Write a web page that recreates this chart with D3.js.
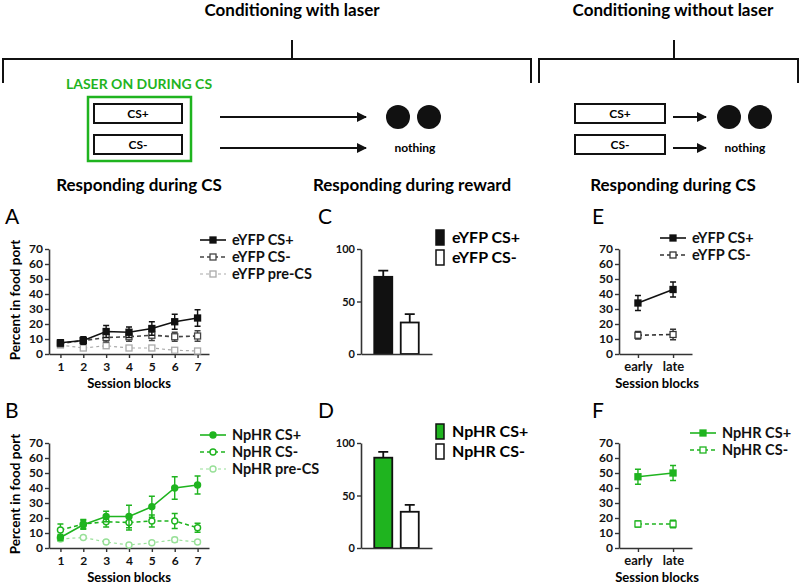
<!DOCTYPE html>
<html><head><meta charset="utf-8">
<script src="https://cdn.jsdelivr.net/npm/d3@7"></script>
<style>
body{margin:0;background:#fff;}
svg{display:block;}
text{font-family:Lato,"Open Sans",sans-serif;}
</style></head>
<body>
<svg id="chart" width="800" height="585"></svg>
<script>
// ---------------- DATA ----------------
const sessionBlocks = [1, 2, 3, 4, 5, 6, 7];
const yTicks70 = [0, 10, 20, 30, 40, 50, 60, 70];
const yTicks100 = [0, 50, 100];

const eyfpCSplus = [7.5, 9, 15, 14.5, 17, 21.5, 24];
const eyfpCSplusErr = [2, 2.5, 4, 3.5, 4.5, 5, 5.5];
const eyfpCSminus = [7, 9, 11, 11.5, 12.5, 11.5, 12];
const eyfpCSminusErr = [2, 2, 3, 3, 3.5, 3, 3.5];
const eyfpPreCS = [6, 4, 5.5, 4, 4, 2.5, 2];
const eyfpPreCSErr = [1, 1, 1, 1, 1, 1, 1];

const nphrCSplus = [7, 15.5, 21, 21, 27.5, 40, 42];
const nphrCSplusErr = [2, 3, 3.5, 7.5, 7, 7.5, 6];
const nphrCSminus = [12, 16, 17.5, 17, 18, 18, 13.5];
const nphrCSminusErr = [4, 3, 3.5, 5, 4, 5, 3];
const nphrPreCS = [6, 7, 4, 2, 3.5, 5.5, 4];
const nphrPreCSErr = [1.5, 1, 1, 1, 1, 1.5, 1];

const rewardCategoriesC = ["eYFP CS+", "eYFP CS-"];
const rewardValuesC = [73.5, 30];
const rewardErrC = [6, 8];
const rewardCategoriesD = ["NpHR CS+", "NpHR CS-"];
const rewardValuesD = [86, 34.5];
const rewardErrD = [5.5, 6.5];

const phases = ["early", "late"];
const eyfpNoLaserCSplus = [34, 43];
const eyfpNoLaserCSplusErr = [5, 5];
const eyfpNoLaserCSminus = [12.5, 13];
const eyfpNoLaserCSminusErr = [2.5, 3.5];
const nphrNoLaserCSplus = [47.5, 50];
const nphrNoLaserCSplusErr = [5, 5];
const nphrNoLaserCSminus = [16, 16];
const nphrNoLaserCSminusErr = [2, 2.5];

// ---------------- STYLE ----------------
const GREEN = "#1fb41f";
const LIGHTGREEN = "#98e098";
const GREY = "#aaaaaa";
const DARK = "#333333";

const svg = d3.select("#chart");

// ---------------- SCHEMATIC ----------------
const schem = svg.append("g");
function bracket(x0, x1, xm) {
  schem.append("path")
    .attr("d", `M${x0},83 V59 H${x1} V83 M${xm},59 V40`)
    .attr("fill", "none").attr("stroke", "#111").attr("stroke-width", 2);
}
bracket(3, 531, 292);
bracket(539, 798, 674);
schem.append("text").attr("x", 292).attr("y", 16).attr("text-anchor", "middle")
  .attr("font-size", 17).attr("font-weight", "bold").text("Conditioning with laser");
schem.append("text").attr("x", 673).attr("y", 16).attr("text-anchor", "middle")
  .attr("font-size", 17).attr("font-weight", "bold").text("Conditioning without laser");

schem.append("text").attr("x", 139).attr("y", 89).attr("text-anchor", "middle")
  .attr("font-family", "Liberation Sans, Arial, sans-serif")
  .attr("font-size", 14).attr("font-weight", "bold").attr("fill", GREEN).text("LASER ON DURING CS");
schem.append("rect").attr("x", 88).attr("y", 97).attr("width", 103).attr("height", 64)
  .attr("fill", "none").attr("stroke", GREEN).attr("stroke-width", 2.5);

svg.append("defs").append("marker").attr("id", "arr")
  .attr("viewBox", "0 0 10 10").attr("refX", 9).attr("refY", 5)
  .attr("markerWidth", 10).attr("markerHeight", 10).attr("markerUnits", "userSpaceOnUse")
  .attr("orient", "auto")
  .append("path").attr("d", "M0,0 L10,5 L0,10 z").attr("fill", "#111");

function csBlock(bx, bw, ax0, ax1, c1, c2, nx) {
  [["CS+", 104], ["CS-", 135]].forEach(([t, y]) => {
    schem.append("rect").attr("x", bx).attr("y", y).attr("width", bw).attr("height", 19)
      .attr("fill", "#fff").attr("stroke", "#111").attr("stroke-width", 2);
    schem.append("text").attr("x", bx + bw / 2).attr("y", y + 14).attr("text-anchor", "middle")
      .attr("font-family", "Liberation Sans, Arial, sans-serif")
      .attr("font-size", 12).attr("font-weight", "bold").text(t);
    schem.append("line").attr("x1", ax0).attr("x2", ax1).attr("y1", y + 13).attr("y2", y + 13)
      .attr("stroke", "#111").attr("stroke-width", 2).attr("marker-end", "url(#arr)");
  });
  [c1, c2].forEach(cx => schem.append("circle").attr("cx", cx).attr("cy", 117).attr("r", 12).attr("fill", "#111"));
  schem.append("text").attr("x", nx).attr("y", 152).attr("text-anchor", "middle")
    .attr("font-family", "Liberation Sans, Arial, sans-serif")
    .attr("font-size", 12).attr("font-weight", "bold").text("nothing");
}
csBlock(94, 88, 220, 366, 398, 429, 415);
csBlock(575, 90, 673, 706, 729, 760, 745);

[["Responding during CS", 139], ["Responding during reward", 412], ["Responding during CS", 673]].forEach(([t, x]) => {
  schem.append("text").attr("x", x).attr("y", 191).attr("text-anchor", "middle")
    .attr("font-size", 17).attr("font-weight", "bold").text(t);
});

// ---------------- HELPERS ----------------
function styleAxis(g) {
  g.selectAll("path.domain").attr("stroke", DARK).attr("stroke-width", 1.6);
  g.selectAll(".tick line").attr("stroke", DARK).attr("stroke-width", 1.4);
  g.selectAll(".tick text").attr("font-family", "Lato, sans-serif").attr("font-size", 12)
    .attr("font-weight", "bold").attr("fill", "#111");
}

function letter(t, x, y) {
  svg.append("text").attr("x", x).attr("y", y).attr("font-size", 21)
    .attr("font-family", "Liberation Sans, Arial, sans-serif").text(t);
}

function drawMarker(g, shape, x, y, s) {
  if (shape === "square") {
    g.append("rect").attr("x", x - 3).attr("y", y - 3).attr("width", 6).attr("height", 6)
      .attr("fill", s.fill).attr("stroke", s.color).attr("stroke-width", 1.3);
  } else {
    g.append("circle").attr("cx", x).attr("cy", y).attr("r", 3)
      .attr("fill", s.fill).attr("stroke", s.color).attr("stroke-width", 1.4);
  }
}

function lineSeries(g, xs, ys, xVals, s) {
  const pts = xVals.map((xv, i) => [xs(xv), ys(s.values[i])]);
  g.append("path").attr("d", d3.line()(pts)).attr("fill", "none")
    .attr("stroke", s.color).attr("stroke-width", s.width || 1.6)
    .attr("stroke-dasharray", s.dash || null);
  xVals.forEach((xv, i) => {
    const x = xs(xv), v = s.values[i], e = s.errs[i];
    const y0 = ys(v - e), y1 = ys(v + e);
    g.append("path").attr("d", `M${x},${y0}V${y1}M${x - 3},${y0}H${x + 3}M${x - 3},${y1}H${x + 3}`)
      .attr("stroke", s.color).attr("stroke-width", 1.4).attr("fill", "none");
  });
  xVals.forEach((xv, i) => drawMarker(g, s.shape, xs(xv), ys(s.values[i]), s));
}

function legendLines(x0, y0, dy, series, fontSize) {
  series.forEach((s, i) => {
    const y = y0 + i * dy;
    const g = svg.append("g");
    g.append("line").attr("x1", x0).attr("x2", x0 + 26).attr("y1", y).attr("y2", y)
      .attr("stroke", s.color).attr("stroke-width", s.width || 1.6).attr("stroke-dasharray", s.dash || null);
    drawMarker(g, s.shape, x0 + 13, y, s);
    g.append("text").attr("x", x0 + 32).attr("y", y + 5).attr("font-size", fontSize)
      .attr("font-weight", "bold").attr("fill", "#111").text(s.name);
  });
}

function sessionPanel(yBottom, series) {
  const xs = d3.scaleLinear().domain([0.5, 7.5]).range([49, 209]);
  const ys = d3.scaleLinear().domain([0, 70]).range([yBottom, yBottom - 105]);
  const gx = svg.append("g").attr("transform", `translate(0,${yBottom})`)
    .call(d3.axisBottom(xs).tickValues(sessionBlocks).tickFormat(d3.format("d"))
      .tickSize(4).tickSizeOuter(0).tickPadding(4));
  styleAxis(gx);
  const gy = svg.append("g").attr("transform", "translate(49,0)")
    .call(d3.axisLeft(ys).tickValues(yTicks70).tickSize(4).tickSizeOuter(0).tickPadding(2));
  styleAxis(gy);
  const g = svg.append("g");
  series.slice().reverse().forEach(s => lineSeries(g, xs, ys, sessionBlocks, s));
  svg.append("text").attr("x", 129).attr("y", yBottom + 34).attr("text-anchor", "middle")
    .attr("font-size", 13).attr("font-weight", "bold").text("Session blocks");
  svg.append("text").attr("transform", `translate(20,${yBottom - 54}) rotate(-90)`)
    .attr("text-anchor", "middle").attr("font-size", 13.5).attr("font-weight", "bold")
    .text("Percent in food port");
}

function barPanel(yBottom, cats, vals, errs, fills) {
  const xs = d3.scaleBand().domain(cats).range([361, 432]).paddingInner(0.32).paddingOuter(0.5);
  const ys = d3.scaleLinear().domain([0, 100]).range([yBottom, yBottom - 105]);
  const g = svg.append("g");
  cats.forEach((c, i) => {
    const x = xs(c), w = xs.bandwidth();
    const xm = x + w / 2, yt = ys(vals[i]), ye = ys(vals[i] + errs[i]);
    g.append("path").attr("d", `M${xm},${yt}V${ye}M${xm - 5},${ye}H${xm + 5}`)
      .attr("stroke", "#111").attr("stroke-width", 1.8).attr("fill", "none");
    g.append("rect").attr("x", x).attr("y", yt).attr("width", w).attr("height", yBottom - yt)
      .attr("fill", fills[i]).attr("stroke", "#111").attr("stroke-width", 1.8);
  });
  const gx = svg.append("g").attr("transform", `translate(0,${yBottom})`)
    .call(d3.axisBottom(xs).tickValues([]).tickSizeOuter(0));
  styleAxis(gx);
  const gy = svg.append("g").attr("transform", "translate(361,0)")
    .call(d3.axisLeft(ys).tickValues(yTicks100).tickSize(4).tickSizeOuter(0).tickPadding(2));
  styleAxis(gy);
  gy.selectAll(".tick text").attr("font-size", 11);
  cats.forEach((c, i) => {
    const y = yBottom - 124 + i * 20;
    svg.append("rect").attr("x", 436).attr("y", y).attr("width", 8).attr("height", 15)
      .attr("fill", fills[i]).attr("stroke", "#111").attr("stroke-width", 1.5);
    svg.append("text").attr("x", 452).attr("y", y + 13).attr("font-size", 16)
      .attr("font-weight", "bold").text(c);
  });
}

function phasePanel(yBottom, series) {
  const xs = d3.scalePoint().domain(phases).range([619, 692]).padding(0.54);
  const ys = d3.scaleLinear().domain([0, 70]).range([yBottom, yBottom - 105]);
  const gx = svg.append("g").attr("transform", `translate(0,${yBottom})`)
    .call(d3.axisBottom(xs).tickSize(4).tickSizeOuter(0).tickPadding(4));
  styleAxis(gx);
  gx.selectAll(".tick text").attr("font-size", 13);
  const gy = svg.append("g").attr("transform", "translate(619,0)")
    .call(d3.axisLeft(ys).tickValues(yTicks70).tickSize(4).tickSizeOuter(0).tickPadding(2));
  styleAxis(gy);
  const g = svg.append("g");
  series.slice().reverse().forEach(s => lineSeries(g, xs, ys, phases, s));
  svg.append("text").attr("x", 657).attr("y", yBottom + 34).attr("text-anchor", "middle")
    .attr("font-size", 13).attr("font-weight", "bold").text("Session blocks");
}

// ---------------- PANELS ----------------
const seriesA = [
  { name: "eYFP CS+", values: eyfpCSplus, errs: eyfpCSplusErr, color: "#111", fill: "#111", shape: "square" },
  { name: "eYFP CS-", values: eyfpCSminus, errs: eyfpCSminusErr, color: "#444", fill: "#fff", shape: "square", dash: "4,3" },
  { name: "eYFP pre-CS", values: eyfpPreCS, errs: eyfpPreCSErr, color: GREY, fill: "#fff", shape: "square", dash: "3,3", width: 1.2 }
];
const seriesB = [
  { name: "NpHR CS+", values: nphrCSplus, errs: nphrCSplusErr, color: GREEN, fill: GREEN, shape: "circle" },
  { name: "NpHR CS-", values: nphrCSminus, errs: nphrCSminusErr, color: GREEN, fill: "#fff", shape: "circle", dash: "4,3" },
  { name: "NpHR pre-CS", values: nphrPreCS, errs: nphrPreCSErr, color: LIGHTGREEN, fill: "#fff", shape: "circle", dash: "3,3", width: 1.2 }
];
const seriesE = [
  { name: "eYFP CS+", values: eyfpNoLaserCSplus, errs: eyfpNoLaserCSplusErr, color: "#111", fill: "#111", shape: "square" },
  { name: "eYFP CS-", values: eyfpNoLaserCSminus, errs: eyfpNoLaserCSminusErr, color: "#333", fill: "#fff", shape: "square", dash: "4,3" }
];
const seriesF = [
  { name: "NpHR CS+", values: nphrNoLaserCSplus, errs: nphrNoLaserCSplusErr, color: GREEN, fill: GREEN, shape: "square" },
  { name: "NpHR CS-", values: nphrNoLaserCSminus, errs: nphrNoLaserCSminusErr, color: GREEN, fill: "#fff", shape: "square", dash: "4,3" }
];

sessionPanel(354, seriesA);
sessionPanel(548, seriesB);
legendLines(200, 240, 17, seriesA, 14.5);
legendLines(200, 435, 17, seriesB, 14.5);

barPanel(354, rewardCategoriesC, rewardValuesC, rewardErrC, ["#111", "#fff"]);
barPanel(548, rewardCategoriesD, rewardValuesD, rewardErrD, [GREEN, "#fff"]);

phasePanel(354, seriesE);
phasePanel(548, seriesF);
legendLines(660, 238, 17, seriesE, 14.5);
legendLines(690, 433, 17, seriesF, 14.5);

letter("A", 5, 224);
letter("B", 5, 418);
letter("C", 318, 224);
letter("D", 318, 418);
letter("E", 592, 224);
letter("F", 592, 418);
</script>
</body></html>
